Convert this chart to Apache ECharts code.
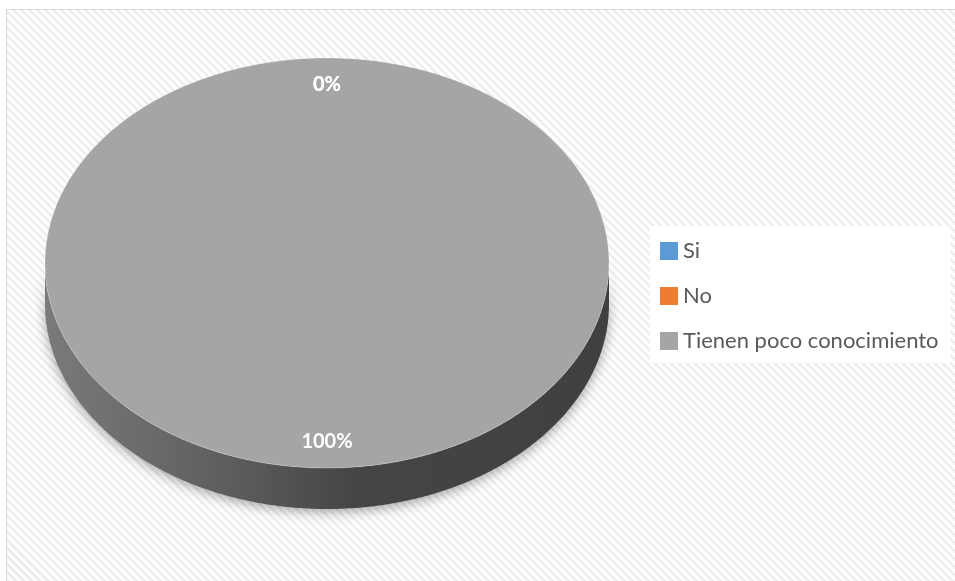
<!DOCTYPE html>
<html>
<head>
<meta charset="utf-8">
<script src="https://cdn.jsdelivr.net/npm/echarts@6/dist/echarts.min.js"></script>
<style>
  html, body { margin: 0; padding: 0; background: #ffffff; }
  #wrap { position: relative; width: 955px; height: 581px; overflow: hidden; background: #ffffff; }
  #frame {
    position: absolute; left: 6px; top: 9px; width: 970px; height: 600px;
    border: 1px solid #d9d9d9;
    background: repeating-linear-gradient(45deg, #ffffff 0px, #ffffff 2.8px, #efefef 2.8px, #efefef 5.66px);
  }
  #chart { position: absolute; left: 0; top: 0; width: 955px; height: 581px; }
</style>
</head>
<body>
<div id="wrap">
  <div id="frame"></div>
  <div id="chart"></div>
</div>
<script>
// Survey answers
const categories = ['Si', 'No', 'Tienen poco conocimiento'];
const values = [0, 0, 100];
const colors = ['#5B9BD5', '#ED7D31', '#A5A5A5'];

// Geometry of the tilted pie
const CX = 327, CY = 263, RX = 282, RY = 205, DEPTH = 41;
const LABEL_R = 0.87;

const total = values.reduce((a, b) => a + b, 0);
const starts = [];
(function () {
  let acc = 0;
  values.forEach(v => { starts.push(acc / total * Math.PI * 2); acc += v; });
})();

// angle measured clockwise from 12 o'clock
function pt(theta, dy) {
  return [CX + RX * Math.sin(theta), CY - RY * Math.cos(theta) + (dy || 0)];
}
function arc(a, b, dy) {
  const n = Math.max(2, Math.ceil((b - a) / (Math.PI / 360)));
  const pts = [];
  for (let i = 0; i <= n; i++) pts.push(pt(a + (b - a) * i / n, dy));
  return pts;
}
function shade(hex, f) {
  const n = parseInt(hex.slice(1), 16);
  const r = Math.round(((n >> 16) & 255) * f);
  const g = Math.round(((n >> 8) & 255) * f);
  const b = Math.round((n & 255) * f);
  return 'rgb(' + r + ',' + g + ',' + b + ')';
}

function makeRender(i) {
  return function (params, api) {
    const v = api.value(0);
    const color = api.visual('color');
    const a = starts[i];
    const b = a + v / total * Math.PI * 2;
    const children = [];
    if (v > 0) {
      // front-facing side wall
      const w1 = Math.max(a, Math.PI / 2), w2 = Math.min(b, Math.PI * 1.5);
      if (w2 > w1) {
        const pts = arc(w1, w2, 0).concat(arc(w1, w2, DEPTH).reverse());
        children.push({
          type: 'polygon', z2: 1,
          shape: { points: pts },
          style: {
            fill: {
              type: 'linear', x: CX - RX, y: 0, x2: CX + RX, y2: 0, global: true,
              colorStops: [
                { offset: 0, color: shade(color, 0.74) },
                { offset: 0.3, color: shade(color, 0.58) },
                { offset: 0.55, color: shade(color, 0.42) },
                { offset: 1, color: shade(color, 0.39) }
              ]
            },
            shadowBlur: 12, shadowOffsetY: 3, shadowColor: 'rgba(0,0,0,0.35)'
          }
        });
      }
      // top face
      const full = (b - a) >= Math.PI * 2 - 1e-9;
      const topPts = full ? arc(a, b, 0) : [[CX, CY]].concat(arc(a, b, 0));
      children.push({
        type: 'polygon', z2: 5,
        shape: { points: topPts },
        style: { fill: color, stroke: 'rgba(255,255,255,0.35)', lineWidth: 0.8 }
      });
    }
    const mid = v > 0 ? (a + b) / 2 : a;
    const pct = Math.round(v / total * 100) + '%';
    children.push({
      type: 'text', z2: 10,
      x: CX + LABEL_R * RX * Math.sin(mid),
      y: CY - LABEL_R * RY * Math.cos(mid),
      style: {
        text: pct, fill: '#ffffff',
        font: 'bold 20px Lato, "Liberation Sans", sans-serif',
        align: 'center', verticalAlign: 'middle'
      }
    });
    return { type: 'group', children: children };
  };
}

const chart = echarts.init(document.getElementById('chart'), null, { renderer: 'canvas' });
chart.setOption({
  backgroundColor: 'transparent',
  animation: false,
  legend: {
    orient: 'vertical',
    left: 650, top: 226,
    backgroundColor: '#ffffff',
    padding: [13, 12, 10, 10],
    itemWidth: 18, itemHeight: 18, itemGap: 21,
    icon: 'rect',
    selectedMode: false,
    textStyle: { color: '#595959', fontSize: 22, lineHeight: 24, fontFamily: 'Lato, "Liberation Sans", sans-serif' },
    data: categories
  },
  series: categories.map((name, i) => ({
    type: 'custom',
    name: name,
    coordinateSystem: 'none',
    itemStyle: { color: colors[i] },
    data: [[values[i]]],
    renderItem: makeRender(i)
  }))
});
</script>
</body>
</html>
